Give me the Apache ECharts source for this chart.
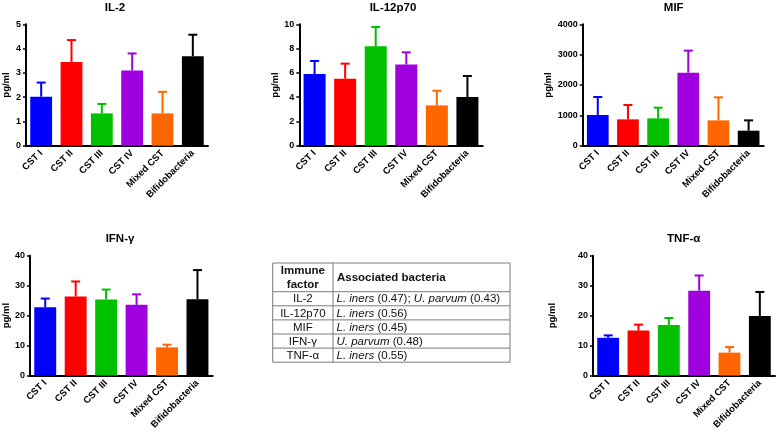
<!DOCTYPE html>
<html><head><meta charset="utf-8">
<script src="https://cdn.jsdelivr.net/npm/echarts@6/dist/echarts.min.js"></script>
<style>html,body{margin:0;padding:0;background:#fff}#c{width:777px;height:432px}</style>
</head><body><div id="c"></div>
<script>
const categories = ['CST I', 'CST II', 'CST III', 'CST IV', 'Mixed CST', 'Bifidobacteria'];
const barColors = ['#0000FF', '#FF0000', '#00C000', '#A000E0', '#FF6600', '#000000'];

const il2Mean = [2.02, 3.45, 1.33, 3.10, 1.33, 3.68];
const il2Upper = [2.60, 4.35, 1.72, 3.80, 2.22, 4.57];
const il12Mean = [5.90, 5.52, 8.19, 6.68, 3.32, 4.01];
const il12Upper = [6.98, 6.76, 9.78, 7.69, 4.53, 5.74];
const mifMean = [1011, 868, 901, 2407, 835, 495];
const mifUpper = [1604, 1341, 1253, 3132, 1593, 835];
const ifnMean = [22.8, 26.4, 25.4, 23.6, 9.4, 25.5];
const ifnUpper = [25.7, 31.4, 28.7, 27.1, 10.3, 35.2];
const tnfMean = [12.6, 15.0, 16.9, 28.3, 7.65, 19.9];
const tnfUpper = [13.4, 17.0, 19.2, 33.4, 9.5, 27.9];

const panelTitles = ['IL-2', 'IL-12p70', 'MIF', 'IFN-γ', 'TNF-α'];
const yMax = [5, 10, 4000, 40, 40];
const yInterval = [1, 2, 1000, 10, 10];
const yName = 'pg/ml';

const tableHeader = ['Immune', 'factor', 'Associated bacteria'];
const tableFactors = ['IL-2', 'IL-12p70', 'MIF', 'IFN-γ', 'TNF-α'];
const tableBacteria = [
  '{i|L. iners} (0.47); {i|U. parvum} (0.43)',
  '{i|L. iners} (0.56)',
  '{i|L. iners} (0.45)',
  '{i|U. parvum} (0.48)',
  '{i|L. iners} (0.55)'
];

const FONT = '"Liberation Sans", Arial, Helvetica, sans-serif';
const means = [il2Mean, il12Mean, mifMean, ifnMean, tnfMean];
const uppers = [il2Upper, il12Upper, mifUpper, ifnUpper, tnfUpper];

const grids = [
  {left: 25, top: 24.3, width: 183, height: 121.4},
  {left: 299.3, top: 24.3, width: 183.4, height: 121.4},
  {left: 582.7, top: 24.3, width: 181, height: 121.4},
  {left: 29.3, top: 255.7, width: 183.4, height: 122},
  {left: 593, top: 255.7, width: 182, height: 122}
];
const nameGaps = [15, 17.5, 28, 19, 36];
const titlePos = [[115, 2], [393, 2], [673.7, 2], [120, 233], [683.7, 233]];

const option = {
  animation: false,
  backgroundColor: '#fff',
  title: panelTitles.map((t, i) => ({
    text: t, left: titlePos[i][0], top: titlePos[i][1], textAlign: 'center', padding: 0,
    textStyle: {fontSize: 11.5, fontWeight: 'bold', color: '#000', fontFamily: FONT}
  })),
  grid: grids.map(g => Object.assign({containLabel: false}, g)),
  xAxis: grids.map((g, i) => ({
    type: 'category', gridIndex: i, data: categories,
    axisLine: {lineStyle: {color: '#000', width: 2}},
    axisTick: {alignWithLabel: true, length: 4, lineStyle: {color: '#000', width: 1.5}},
    axisLabel: {rotate: 45, interval: 0, fontSize: 9.5, fontWeight: 'bold', color: '#000', margin: 6, fontFamily: FONT},
    splitLine: {show: false}
  })),
  yAxis: grids.map((g, i) => ({
    type: 'value', gridIndex: i, min: 0, max: yMax[i], interval: yInterval[i],
    name: yName, nameLocation: 'middle', nameGap: nameGaps[i], nameRotate: 90,
    nameTextStyle: {fontSize: 9.5, fontWeight: 'bold', color: '#000', fontFamily: FONT},
    axisLine: {show: true, lineStyle: {color: '#000', width: 2}},
    axisTick: {show: true, length: 3, lineStyle: {color: '#000', width: 1.5}},
    axisLabel: {fontSize: 9, fontWeight: 'bold', color: '#000', margin: 5, fontFamily: FONT,
      formatter: v => String(v)},
    splitLine: {show: false}
  })),
  series: [],
  graphic: []
};

means.forEach((m, i) => {
  option.series.push({
    type: 'bar', xAxisIndex: i, yAxisIndex: i, barCategoryGap: '28%',
    data: m.map((v, k) => ({value: v, itemStyle: {color: barColors[k]}})),
    z: 2
  });
  option.series.push({
    type: 'custom', xAxisIndex: i, yAxisIndex: i, z: 3,
    data: m.map((v, k) => [k, v, uppers[i][k]]),
    renderItem: function (params, api) {
      const k = api.value(0);
      const base = api.coord([k, api.value(1)]);
      const top = api.coord([k, api.value(2)]);
      const col = barColors[k];
      const hw = 4.5;
      return {
        type: 'group',
        children: [
          {type: 'line', shape: {x1: base[0], y1: base[1], x2: top[0], y2: top[1]}, style: {stroke: col, lineWidth: 2}},
          {type: 'line', shape: {x1: top[0] - hw, y1: top[1], x2: top[0] + hw, y2: top[1]}, style: {stroke: col, lineWidth: 2}}
        ]
      };
    }
  });
});

// Table
const tL = 272.7, tR = 510, tT = 263, tHead = 291.7, rowH = 14.1, colX = 333;
const tB = tHead + rowH * tableFactors.length;
const lineStyle = {stroke: '#7a7a7a', lineWidth: 1};
const tbl = [];
tbl.push({type: 'rect', shape: {x: tL, y: tT, width: tR - tL, height: tB - tT}, style: {fill: '#fff', stroke: '#7a7a7a', lineWidth: 1}, z: 10});
tbl.push({type: 'line', shape: {x1: colX, y1: tT, x2: colX, y2: tB}, style: lineStyle, z: 11});
for (let r = 0; r < tableFactors.length; r++) {
  const y = tHead + rowH * r;
  tbl.push({type: 'line', shape: {x1: tL, y1: y, x2: tR, y2: y}, style: lineStyle, z: 11});
}
const colC = (tL + colX) / 2;
tbl.push({type: 'text', x: colC, y: 271, z: 12, style: {text: tableHeader[0], align: 'center', verticalAlign: 'middle', font: 'bold 11.5px ' + FONT, fill: '#111'}});
tbl.push({type: 'text', x: colC, y: 284.5, z: 12, style: {text: tableHeader[1], align: 'center', verticalAlign: 'middle', font: 'bold 11.5px ' + FONT, fill: '#111'}});
tbl.push({type: 'text', x: 337, y: 277.5, z: 12, style: {text: tableHeader[2], align: 'left', verticalAlign: 'middle', font: 'bold 11.5px ' + FONT, fill: '#111'}});
tableFactors.forEach((f, r) => {
  const cy = tHead + rowH * r + rowH / 2 + 0.5;
  tbl.push({type: 'text', x: colC, y: cy, z: 12, style: {text: f, align: 'center', verticalAlign: 'middle', fontSize: 11.5, fontFamily: FONT, fill: '#111'}});
  tbl.push({type: 'text', x: 336.5, y: cy, z: 12, style: {
    text: tableBacteria[r], align: 'left', verticalAlign: 'middle', fontSize: 11.5, fontFamily: FONT, fill: '#111',
    rich: {i: {fontStyle: 'italic', fontSize: 11.5, fontFamily: FONT, fill: '#111'}}
  }});
});
option.graphic = tbl;

const chart = echarts.init(document.getElementById('c'), null, {renderer: 'canvas'});
chart.setOption(option);
</script></body></html>
